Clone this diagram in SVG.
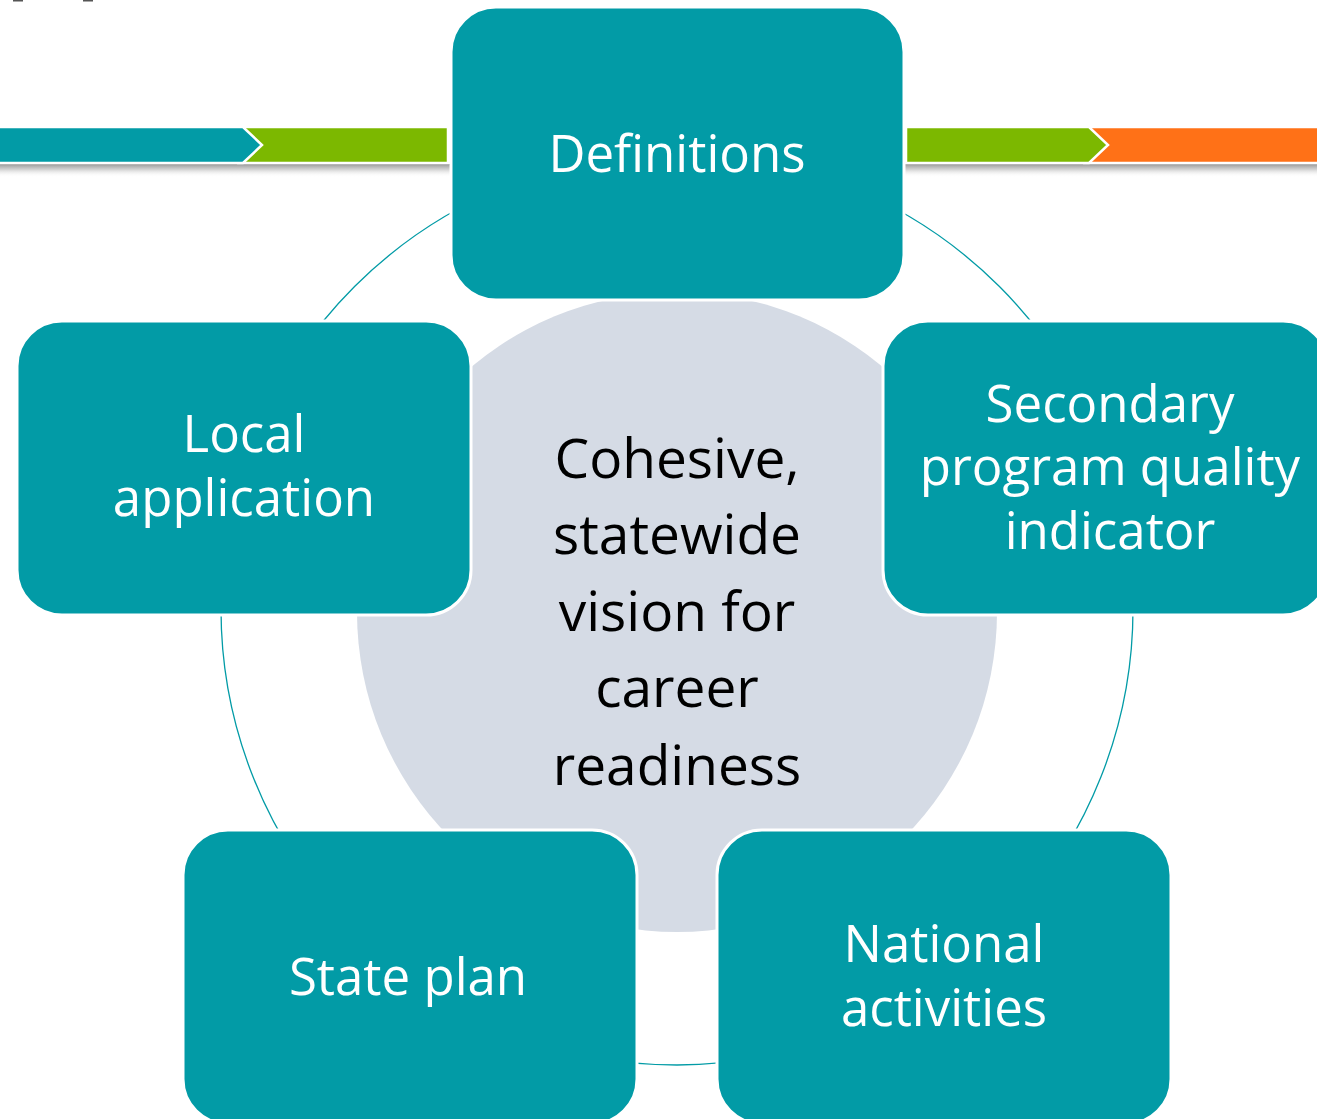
<svg xmlns="http://www.w3.org/2000/svg" width="1317" height="1119" viewBox="0 0 1317 1119">
<defs>
<style>
.node{fill:#029ba6;stroke:#ffffff;stroke-width:3}
.lbl{fill:#ffffff;font-family:"Open Sans","DejaVu Sans",sans-serif;font-size:51px;text-anchor:middle}
.ctr{fill:#000000;font-family:"Open Sans","DejaVu Sans",sans-serif;font-size:55px;text-anchor:middle}
.seg{stroke:#ffffff;stroke-width:2.5;stroke-linejoin:miter}
</style>
<linearGradient id="shadow" x1="0" y1="0" x2="0" y2="1">
<stop offset="0" stop-color="#8a8a8a" stop-opacity="0.9"/>
<stop offset="0.4" stop-color="#b0b0b0" stop-opacity="0.6"/>
<stop offset="1" stop-color="#ffffff" stop-opacity="0"/>
</linearGradient>
</defs>
<rect width="1317" height="1119" fill="#ffffff"/>
<rect x="13" y="0" width="10" height="1.5" fill="#555"/>
<rect x="83" y="0" width="10" height="1.5" fill="#555"/>
<g id="banner">
<rect x="0" y="164" width="1317" height="13" fill="url(#shadow)"/>
<polygon class="seg" fill="#7cb800" points="240,127 448,127 448,163 240,163 258,145"/>
<polygon class="seg" fill="#029ba6" points="-5,127 243,127 262,145 243,163 -5,163"/>
<polygon class="seg" fill="#ff7117" points="1086,127 1322,127 1322,163 1086,163 1104,145"/>
<polygon class="seg" fill="#7cb800" points="906,127 1089,127 1108,145 1089,163 906,163"/>
</g>
<g id="connectors">
<circle cx="677" cy="609" r="456" fill="none" stroke="#029ba6" stroke-width="1.3"/>
</g>
<g id="center">
<circle cx="677" cy="612" r="320" fill="#d5dbe5"/>
<text class="ctr" x="677" y="478">Cohesive,</text>
<text class="ctr" x="677" y="554">statewide</text>
<text class="ctr" x="677" y="631">vision for</text>
<text class="ctr" x="677" y="707">career</text>
<text class="ctr" x="677" y="785">readiness</text>
</g>
<g id="definitions">
<rect class="node" x="451" y="7" width="453" height="293" rx="45"/>
<text class="lbl" x="677" y="172">Definitions</text>
</g>
<g id="local">
<rect class="node" x="17" y="321" width="454" height="294" rx="45"/>
<text class="lbl" x="244" y="452">Local</text>
<text class="lbl" x="244" y="516">application</text>
</g>
<g id="secondary">
<rect class="node" x="883" y="321" width="445" height="294" rx="45"/>
<text class="lbl" x="1110" y="422">Secondary</text>
<text class="lbl" x="1110" y="485">program quality</text>
<text class="lbl" x="1110" y="549">indicator</text>
</g>
<g id="state">
<rect class="node" x="183" y="830" width="454" height="294" rx="45"/>
<text class="lbl" x="408" y="995">State plan</text>
</g>
<g id="national">
<rect class="node" x="717" y="830" width="454" height="294" rx="45"/>
<text class="lbl" x="944" y="962">National</text>
<text class="lbl" x="944" y="1026">activities</text>
</g>
</svg>
